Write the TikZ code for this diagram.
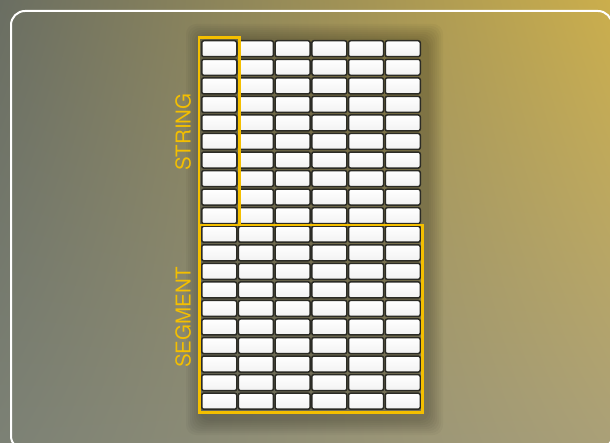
\documentclass[tikz,border=0pt]{standalone}
\usepackage{fontspec}
\usepackage{tikz}
\usetikzlibrary{positioning,shadings}
\newfontfamily\labelfont{TeX Gyre Heros}
\definecolor{frameyellow}{HTML}{F4BF00}
\definecolor{celledge}{HTML}{2B2B25}
\definecolor{bgul}{RGB}{106,110,98}
\definecolor{bgur}{RGB}{203,174,76}
\definecolor{bgll}{RGB}{124,129,117}
\definecolor{bglr}{RGB}{170,160,120}

\begin{document}
\begin{tikzpicture}[
    x=1pt, y=-1pt,
    cell/.style={draw=celledge,line width=1.5pt,rounded corners=2pt,minimum width=35pt,minimum height=16pt,
      inner sep=0pt,top color=white,bottom color=black!5},
    frame/.style={draw=frameyellow,line width=2.8pt},
    tag/.style={rotate=90,font=\labelfont\fontsize{20.5}{20.5}\selectfont,text=frameyellow,inner sep=0pt},
    shadowbox/.style={fill=black,fill opacity=0.03,rounded corners=10pt}
  ]
    \useasboundingbox (0,0) rectangle (610,443);
    % background
    \shade[upper left=bgul,upper right=bgur,lower left=bgll,lower right=bglr] (0,0) rectangle (610,443);
    \draw[white,line width=2pt,rounded corners=14pt] (11,11) rectangle (612,450);

    % soft shadow under the grid
    \foreach \d in {2,4,...,16}
      \fill[shadowbox] (202-\d,40-\d) rectangle (427+\d,419+\d);

    % cells
    \foreach \r in {0,...,19}
      \foreach \c in {0,...,5}
        \node[cell] (c-\r-\c) at (219.25+36.7*\c,48.75+18.55*\r) {};

    % groups
    \draw[frame] ([shift={(-2,-2.5)}]c-0-0.north west) rectangle ([shift={(1.6,0.6)}]c-9-0.south east);
    \draw[frame] ([shift={(-1.6,-0.5)}]c-10-0.north west) rectangle ([shift={(1.6,2.2)}]c-19-5.south east);
    \node[tag,anchor=north] (string) at ([xshift=-26pt]c-4-0.south west) {STRING};
    \node[tag,anchor=north] (segment) at ([xshift=-26pt]c-14-0.south west) {SEGMENT};
  \end{tikzpicture}
\end{document}
